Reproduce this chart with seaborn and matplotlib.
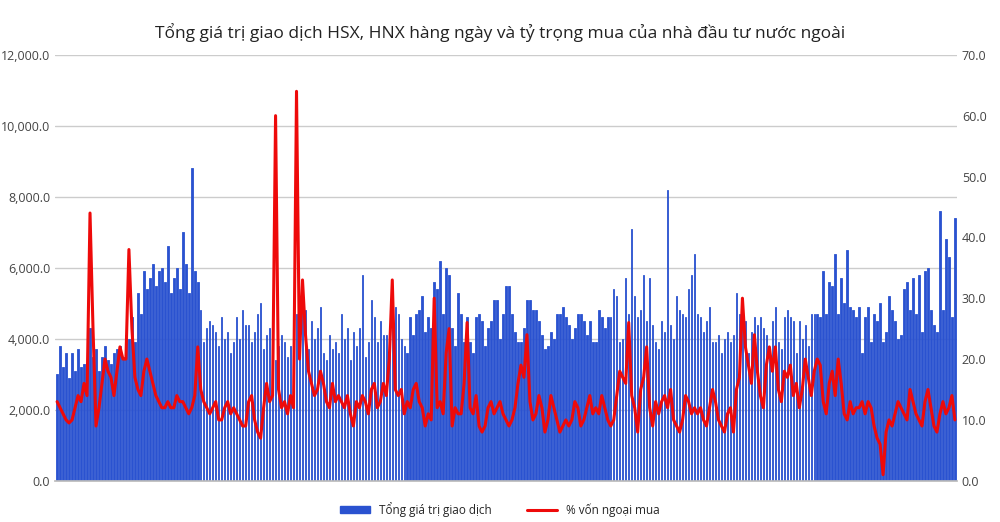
import matplotlib
matplotlib.use("Agg")
import matplotlib.pyplot as plt
import seaborn as sns
import numpy as np
import pandas as pd
from matplotlib.ticker import FuncFormatter

title = "Tổng giá trị giao dịch HSX, HNX hàng ngày và tỷ trọng mua của nhà đầu tư nước ngoài"
bar_label = "Tổng giá trị giao dịch"
line_label = "% vốn ngoại mua"

total_value = [
3000,3800,3200,3600,2900,3600,3100,3700,3200,3300,
3200,4300,3500,3700,3100,3500,3800,3400,3300,3600,
3700,3800,3500,4100,4000,4600,3900,5300,4700,5900,
5400,5700,6100,5500,5900,6000,5600,6600,5300,5700,
6000,5400,7000,6100,5300,8800,5900,5600,4800,3900,
4300,4500,4400,4200,3800,4600,4000,4200,3600,3900,
4600,4000,4800,4400,4400,3900,4200,4700,5000,3700,
4100,4300,4500,3400,3800,4100,3900,3500,3800,3700,
4700,4300,5400,4800,3700,4500,4000,4300,4900,3600,
3400,4100,3700,3900,3600,4700,4000,4300,3400,4200,
3800,4300,5800,3500,3900,5100,4600,3900,4500,4100,
4100,3700,4500,4900,4700,4000,3800,3600,4600,4100,
4700,4800,5200,4200,4600,4300,5600,5400,6200,4700,
6000,5800,4300,3800,5300,4700,3900,4600,3900,3600,
4600,4700,4500,3800,4300,4500,5100,5100,4000,4700,
5500,5500,4700,4200,3900,3900,4300,5100,5100,4800,
4800,4500,4100,3700,3800,4200,4000,4700,4700,4900,
4600,4400,4000,4300,4700,4700,4500,4100,4500,3900,
3900,4800,4600,4300,4600,4600,5400,5200,3900,4000,
5700,4700,7100,5200,4600,4800,5800,4500,5700,4400,
3900,3700,4500,4200,8200,4400,4000,5200,4800,4700,
4600,5400,5800,6400,4700,4600,4200,4500,4900,3900,
3900,4100,3600,4000,4200,3900,4100,5300,4700,4300,
4500,3600,4200,4600,4400,4600,4300,4100,3700,4500,
4900,3900,3700,4600,4800,4600,4500,3600,4500,4000,
4400,3800,4700,4700,4700,4600,5900,4700,5600,5500,
6400,4700,5700,5000,6500,4900,4800,4600,4900,3600,
4600,4900,3900,4700,4500,5000,3900,4200,5200,4800,
4500,4000,4100,5400,5600,4800,5700,4700,5800,4200,
5900,6000,4800,4400,4200,7600,4800,6800,6300,4600,
7400]

foreign_pct = [
13,12,11,10,9.5,10,12,14,13,16,
14,44,25,9,12,16,20,18,17,14,
18,22,20,20,38,25,17,15,14,18,
20,18,16,14,13,12,12,13,12,12,
14,13,13,12,11,12,14,22,15,13,
12,11,12,13,10,10,12,13,11,12,
11,10,9,9,13,14,10,8,7,12,
16,13,14,60,15,12,13,11,14,12,
64,20,33,24,18,16,14,15,18,16,
13,12,16,13,14,13,12,14,11,9,
13,12,14,13,11,15,16,12,13,16,
14,20,33,15,14,15,11,13,12,15,
16,13,12,9,11,10,30,12,13,11,
21,25,9,12,11,11,16,26,12,11,
14,9,8,9,12,13,11,12,13,11,
10,9,10,12,16,19,17,24,13,10,
11,14,12,8,10,14,12,10,8,9,
10,9,10,13,12,9,10,12,14,11,
12,11,14,12,10,9,10,14,18,17,
16,26,14,12,8,15,17,22,12,9,
13,11,13,14,12,15,10,9,8,10,
14,13,11,12,11,12,10,9,12,15,
13,10,9,8,11,12,8,15,17,30,
22,19,16,24,18,14,12,19,22,18,
22,15,13,18,17,19,14,16,12,15,
20,17,14,18,20,19,13,11,16,18,
14,20,16,11,10,13,11,12,12,13,
11,13,12,9,7,6,1,8,10,9,
11,13,12,11,10,15,13,11,10,9,
13,15,12,9,8,11,13,11,12,14,
10]

df = pd.DataFrame({"day": np.arange(len(total_value)), "value": total_value, "pct": foreign_pct})

sns.set_theme(style="white")
plt.rcParams['font.family'] = ['Open Sans', 'DejaVu Sans']
fig = plt.figure(figsize=(10, 5.22), dpi=100)
ax = fig.add_axes([0.055, 0.079, 0.902, 0.816])
sns.barplot(data=df, x="day", y="value", color="#2a52d0", width=0.5, saturation=1, ax=ax,
            edgecolor="#2a52d0", linewidth=0.6)
ax2 = ax.twinx()
ax2.plot(df["day"], df["pct"], color="#ee0a0a", lw=2.2)

ax.set_ylim(0, 12000)
ax.set_yticks(np.arange(0, 12001, 2000))
ax.yaxis.set_major_formatter(FuncFormatter(lambda v, p: f"{v:,.1f}"))
ax2.set_ylim(0, 70)
ax2.set_yticks(np.arange(0, 71, 10))
ax2.yaxis.set_major_formatter(FuncFormatter(lambda v, p: f"{v:.1f}"))
ax.set_xlim(-0.7, len(total_value) - 0.3)
ax.set_xticks([])
ax.set_xlabel("")
ax.set_ylabel("")
ax.yaxis.grid(True, color="#cccccc", lw=1)
ax.set_axisbelow(True)
for a in (ax, ax2):
    for s in a.spines.values():
        s.set_visible(False)
    a.tick_params(axis="y", labelsize=9, colors="#444444", length=0)
ax.spines["bottom"].set_visible(True)
ax.spines["bottom"].set_color("#bbbbbb")

fig.suptitle(title, y=0.955, fontsize=12.5, color="#222222")
handles = [plt.Rectangle((0, 0), 1, 1, color="#2a52d0"),
           plt.Line2D([0], [0], color="#ee0a0a", lw=2.2)]
fig.legend(handles, [bar_label, line_label], loc="lower center", ncol=2, frameon=False, fontsize=8.5,
           bbox_to_anchor=(0.5, -0.01), handlelength=2.5, handleheight=0.5, columnspacing=3)
fig.savefig("out.png", dpi=100)
